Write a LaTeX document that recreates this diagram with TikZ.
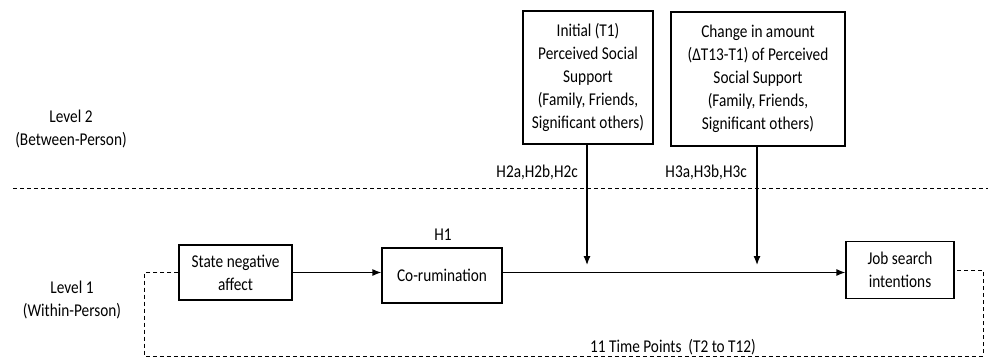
\documentclass[tikz,border=0pt]{standalone}
\usepackage{fontspec}
\setmainfont{Carlito}[FakeStretch=0.85]
\usepackage{tikz}
\usetikzlibrary{positioning,arrows.meta}

\begin{document}
\begin{tikzpicture}[x=1pt,y=-1pt,
  every node/.style={font=\fontsize{18}{23}\selectfont},
  varbox/.style={draw,line width=1.2pt,align=center,inner sep=0pt},
  lab/.style={align=center,inner sep=0pt},
  arr/.style={line width=1.2pt,-{Latex[length=9pt,width=7pt]}},
  sep/.style={line width=0.9pt,dash pattern=on 4pt off 3pt}]
\useasboundingbox (0,0) rectangle (988,360);
% level labels
\node[lab] (lvltwo) at (71,129) {Level 2\\(Between-Person)};
\node[lab] (lvlone) at (72,300) {Level 1\\(Within-Person)};
\draw[sep] (13,188) -- (988,188);
% level 2 boxes
\node[varbox,minimum width=130pt,minimum height=133pt] (init) at (588,77.5)
{Initial (T1)\\Perceived Social\\Support\\(Family, Friends,\\Significant others)};
\node[varbox,minimum width=174pt,minimum height=134pt] (change) at (758,79)
{Change in amount\\(ΔT13-T1) of Perceived\\Social Support\\(Family, Friends,\\Significant others)};
% level 1 boxes
\node[varbox,minimum width=113pt,minimum height=55pt] (sna) at (235.5,272.5)
{State negative\\affect};
\node[varbox,minimum width=120pt,minimum height=55pt] (corum) at (442,275.5)
{Co-rumination};
\node[varbox,minimum width=108pt,minimum height=57pt] (job) at (900,270)
{Job search\\intentions};
\node[lab] (hone) at (443,235) {H1};
\node[lab,anchor=east] (htwo) at (578,172) {H2a,H2b,H2c};
\node[lab,anchor=east] (hthree) at (747,172) {H3a,H3b,H3c};
\node[lab] (tpts) at (673,347) {11 Time Points~~(T2 to T12)};
% paths
\coordinate (mone) at (587,265);
\coordinate (mtwo) at (757,265);
\draw[arr] (sna.east) -- (corum.west |- sna.east);
\draw[arr] (corum.east |- sna.east) -- (job.west |- sna.east);
\draw[arr] (init.south -| mone) -- (mone);
\draw[arr] (change.south -| mtwo) -- (mtwo);
\draw[sep] (sna.west) -- ++(-34,0) |- (983,356) |- (job.east);
\end{tikzpicture}
\end{document}
